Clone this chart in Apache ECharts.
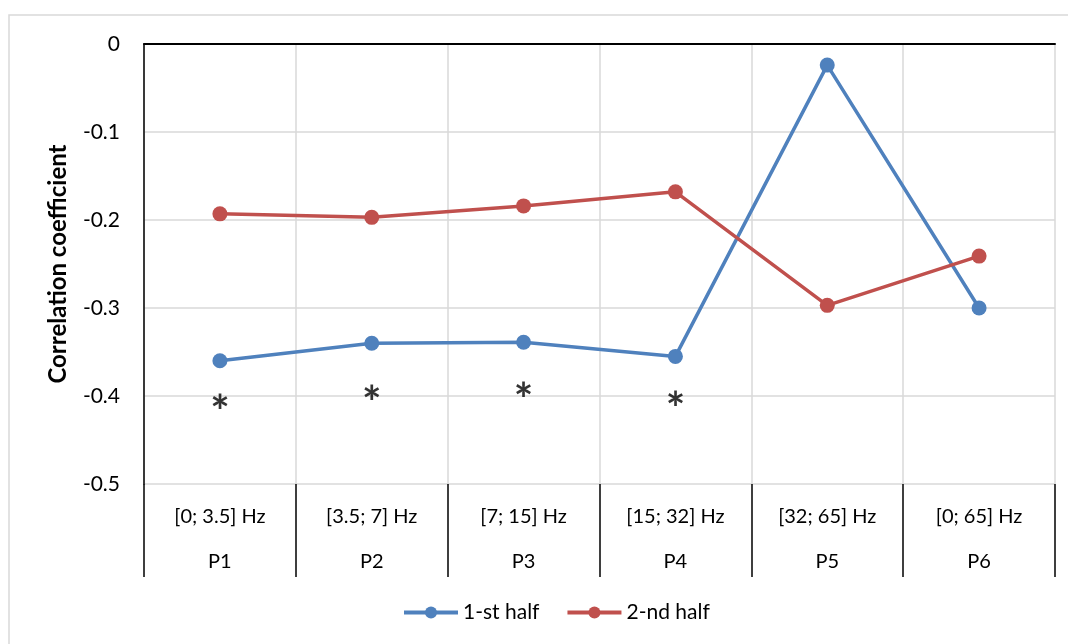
<!DOCTYPE html>
<html>
<head>
<meta charset="utf-8">
<script src="https://cdn.jsdelivr.net/npm/echarts@6/dist/echarts.min.js"></script>
<style>html,body{margin:0;padding:0;background:#fff;}#c{width:1068px;height:644px;}</style>
</head>
<body>
<div id="c"></div>
<script>
var bands = ['[0; 3.5] Hz', '[3.5; 7] Hz', '[7; 15] Hz', '[15; 32] Hz', '[32; 65] Hz', '[0; 65] Hz'];
var params = ['P1', 'P2', 'P3', 'P4', 'P5', 'P6'];
var firstHalf = [-0.360, -0.340, -0.339, -0.355, -0.024, -0.300];
var secondHalf = [-0.193, -0.197, -0.184, -0.168, -0.297, -0.241];
var starPos = [-0.408, -0.398, -0.394, -0.405, null, null];
var yTicks = { min: -0.5, max: 0, step: 0.1 };

var FONT = 'Lato, "Open Sans", sans-serif';
var chart = echarts.init(document.getElementById('c'));
var cats = params.map(function (p, i) { return bands[i] + '\n' + p; });

chart.setOption({
  animation: false,
  backgroundColor: '#fff',
  graphic: [{
    type: 'rect', shape: { x: 9, y: 15, width: 1080, height: 650 },
    style: { fill: 'none', stroke: '#d9d9d9', lineWidth: 1.5 }, silent: true, z: -1
  }],
  grid: { left: 144, right: 13, top: 44, bottom: 160, containLabel: false },
  legend: {
    bottom: 16, left: 397, itemWidth: 54, itemHeight: 15, itemGap: 26,
    lineStyle: { width: 4 },
    textStyle: { fontFamily: FONT, fontSize: 21, color: '#000' },
    data: ['1-st half', '2-nd half']
  },
  xAxis: [{
    type: 'category', data: cats, position: 'bottom', boundaryGap: true,
    axisLine: { show: false, onZero: false },
    axisTick: { show: true, length: 93, lineStyle: { color: '#000', width: 1.5 } },
    splitLine: { show: true, lineStyle: { color: '#d9d9d9', width: 1.5 } },
    axisLabel: {
      margin: 10, interval: 0, color: '#000', fontFamily: FONT, fontSize: 20, lineHeight: 45
    }
  }, {
    type: 'category', data: cats, position: 'top', boundaryGap: true,
    axisLine: { show: true, lineStyle: { color: '#000', width: 2 } },
    axisTick: { show: false }, axisLabel: { show: false }, splitLine: { show: false }
  }],
  yAxis: {
    type: 'value', min: yTicks.min, max: yTicks.max, interval: yTicks.step,
    name: 'Correlation coefficient', nameLocation: 'middle', nameGap: 74,
    nameTextStyle: { fontFamily: FONT, fontSize: 24, fontWeight: 'bold', color: '#000' },
    axisLine: { show: true, onZero: false, lineStyle: { color: '#000', width: 1.5 } },
    axisTick: { show: false },
    splitLine: { show: true, lineStyle: { color: '#d9d9d9', width: 1.5 } },
    axisLabel: {
      margin: 24, color: '#000', fontFamily: FONT, fontSize: 21,
      formatter: function (v) { return Math.abs(v) < 1e-9 ? '0' : String(Math.round(v * 10) / 10); }
    }
  },
  series: [{
    name: '1-st half', type: 'line', data: firstHalf, symbol: 'circle', symbolSize: 15,
    itemStyle: { color: '#4f81bd' }, lineStyle: { color: '#4f81bd', width: 3.5 }, z: 3
  }, {
    name: '2-nd half', type: 'line', data: secondHalf, symbol: 'circle', symbolSize: 15,
    itemStyle: { color: '#c0504d' }, lineStyle: { color: '#c0504d', width: 3.5 }, z: 3
  }, {
    name: 'sig', type: 'scatter', data: starPos, symbolSize: 0.1,
    label: {
      show: true, position: 'inside', formatter: '*', offset: [0, 10],
      fontFamily: FONT, fontSize: 46, fontWeight: 'bold', color: '#000'
    }
  }]
});
</script>
</body>
</html>
